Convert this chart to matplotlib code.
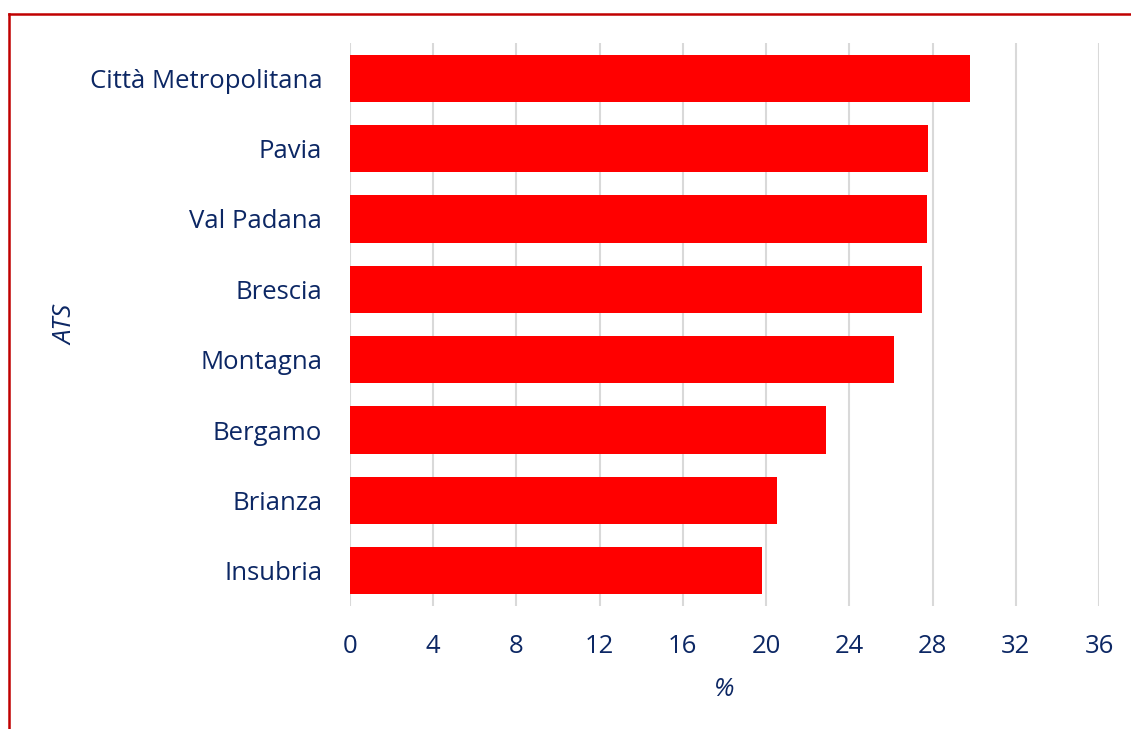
import matplotlib.pyplot as plt
from matplotlib.lines import Line2D

# dati
ats = ['Città Metropolitana', 'Pavia', 'Val Padana', 'Brescia',
       'Montagna', 'Bergamo', 'Brianza', 'Insubria']
valori = [29.8, 27.8, 27.75, 27.5, 26.15, 22.9, 20.5, 19.8]
xticks = [0, 4, 8, 12, 16, 20, 24, 28, 32, 36]

blu = '#0c2764'
plt.rcParams['font.family'] = ['Open Sans', 'DejaVu Sans']

fig = plt.figure(figsize=(11.31, 7.29), dpi=100)
ax = fig.add_axes([350 / 1131, 1 - 606 / 729, 749 / 1131, 563 / 729])

y = list(range(len(ats)))
ax.barh(y, valori, height=0.67, color='#ff0000', zorder=3)

ax.set_xlim(0, 36)
ax.set_ylim(len(ats) - 0.5, -0.5)
ax.set_xticks(xticks)
ax.set_xticklabels([str(t) for t in xticks], fontsize=18.5, color=blu)
ax.set_yticks(y)
ax.set_yticklabels(ats, fontsize=18.5, color=blu)
ax.tick_params(axis='both', length=0)
ax.tick_params(axis='x', pad=20)
ax.tick_params(axis='y', pad=20)

ax.grid(axis='x', color='#d9d9d9', linewidth=1.5, zorder=0)
ax.set_axisbelow(True)
for s in ax.spines.values():
    s.set_visible(False)

ax.set_xlabel('%', fontsize=18.5, color=blu, style='italic', labelpad=13)
ax.set_ylabel('ATS', fontsize=18.5, color=blu, style='italic')
ax.yaxis.set_label_coords(-0.363, 0.5, transform=ax.transAxes)

# cornice rossa (solo bordo superiore e sinistro)
fig.add_artist(Line2D([8.7 / 1131, 1], [1 - 13.5 / 729] * 2,
                      transform=fig.transFigure, color='#c00000', lw=1.8))
fig.add_artist(Line2D([8.7 / 1131] * 2, [0, 1 - 13.5 / 729],
                      transform=fig.transFigure, color='#c00000', lw=1.8))

fig.savefig('out.png', dpi=100)
